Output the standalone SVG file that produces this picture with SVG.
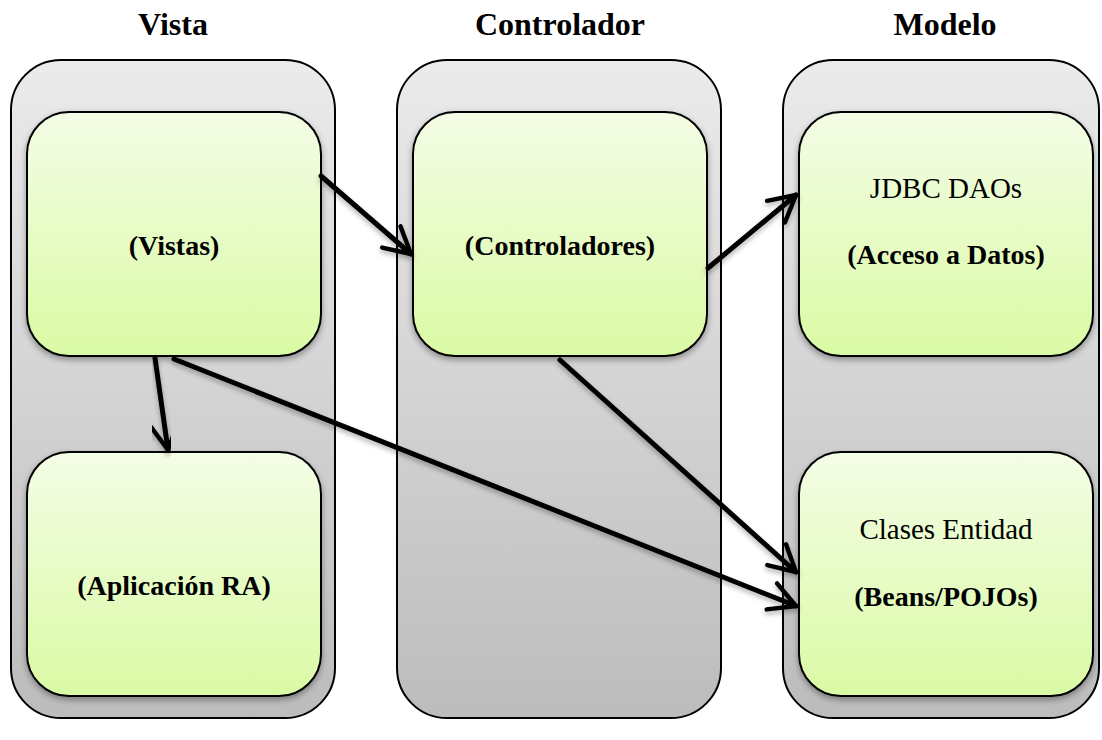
<svg xmlns="http://www.w3.org/2000/svg" width="1102" height="740" viewBox="0 0 1102 740">
<style>
.col{stroke:#000;stroke-width:2;fill:url(#gcol)}
.box{stroke:#000;stroke-width:2;fill:url(#gbox);filter:url(#sh)}
.title{font-family:"Liberation Serif",serif;font-weight:bold;font-size:32px;text-anchor:middle;fill:#000}
.b{font-family:"Liberation Serif",serif;font-weight:bold;font-size:28px;text-anchor:middle;fill:#000}
.r{font-family:"Liberation Serif",serif;font-size:29px;text-anchor:middle;fill:#000}
.c{stroke:#000;stroke-width:5;fill:none;marker-end:url(#ah);stroke-linecap:round;filter:url(#sh2)}
</style>
<defs>
<linearGradient id="gcol" x1="0" y1="0" x2="0" y2="1">
<stop offset="0" stop-color="#ebebeb"/><stop offset="1" stop-color="#bcbcbc"/>
</linearGradient>
<linearGradient id="gbox" x1="0" y1="0" x2="0" y2="1">
<stop offset="0" stop-color="#f4fde6"/><stop offset="1" stop-color="#dafaa4"/>
</linearGradient>
<filter id="sh" x="-10%" y="-10%" width="120%" height="130%">
<feDropShadow dx="0" dy="3" stdDeviation="3" flood-color="#000" flood-opacity="0.35"/>
</filter>
<filter id="sh2" x="-20%" y="-20%" width="140%" height="140%">
<feDropShadow dx="0" dy="3" stdDeviation="2.5" flood-color="#000" flood-opacity="0.3"/>
</filter>
<marker id="ah" viewBox="0 0 10 10" refX="9" refY="5" markerWidth="8" markerHeight="8" orient="auto" markerUnits="strokeWidth">
<path d="M2.5,1.5 L9,5 L2.5,8.5" fill="none" stroke="#000" stroke-width="1.1" stroke-linecap="round" stroke-linejoin="round"/>
</marker>
</defs>
<g id="titles">
<text class="title" x="173" y="35">Vista</text>
<text class="title" x="560" y="35">Controlador</text>
<text class="title" x="945" y="35">Modelo</text>
</g>
<g id="col-vista"><rect class="col" x="11" y="60" width="324" height="658" rx="50"/></g>
<g id="col-controlador"><rect class="col" x="397" y="60" width="324" height="658" rx="50"/></g>
<g id="col-modelo"><rect class="col" x="783" y="60" width="316" height="658" rx="50"/></g>
<g id="vistas"><rect class="box" x="27" y="112" width="294" height="244" rx="42"/>
<text class="b" x="174" y="255">(Vistas)</text></g>
<g id="aplicacion"><rect class="box" x="27" y="452" width="294" height="244" rx="42"/>
<text class="b" x="174" y="595">(Aplicación RA)</text></g>
<g id="controladores"><rect class="box" x="413" y="112" width="294" height="244" rx="42"/>
<text class="b" x="560" y="255">(Controladores)</text></g>
<g id="daos"><rect class="box" x="799" y="112" width="294" height="244" rx="42"/>
<text class="r" x="946" y="198">JDBC DAOs</text>
<text class="b" x="946" y="264">(Acceso a Datos)</text></g>
<g id="entidad"><rect class="box" x="799" y="452" width="294" height="244" rx="42"/>
<text class="r" x="946" y="539">Clases Entidad</text>
<text class="b" x="946" y="606">(Beans/POJOs)</text></g>
<g id="connectors">
<line class="c" x1="321" y1="176" x2="411" y2="254"/>
<line class="c" x1="708" y1="268" x2="796" y2="195"/>
<line class="c" x1="155" y1="358" x2="168" y2="450"/>
<line class="c" x1="174" y1="359" x2="796" y2="606"/>
<line class="c" x1="560" y1="360" x2="796" y2="572"/>
<line class="c" x1="946" y1="358" x2="946" y2="450"/>
</g>
</svg>
